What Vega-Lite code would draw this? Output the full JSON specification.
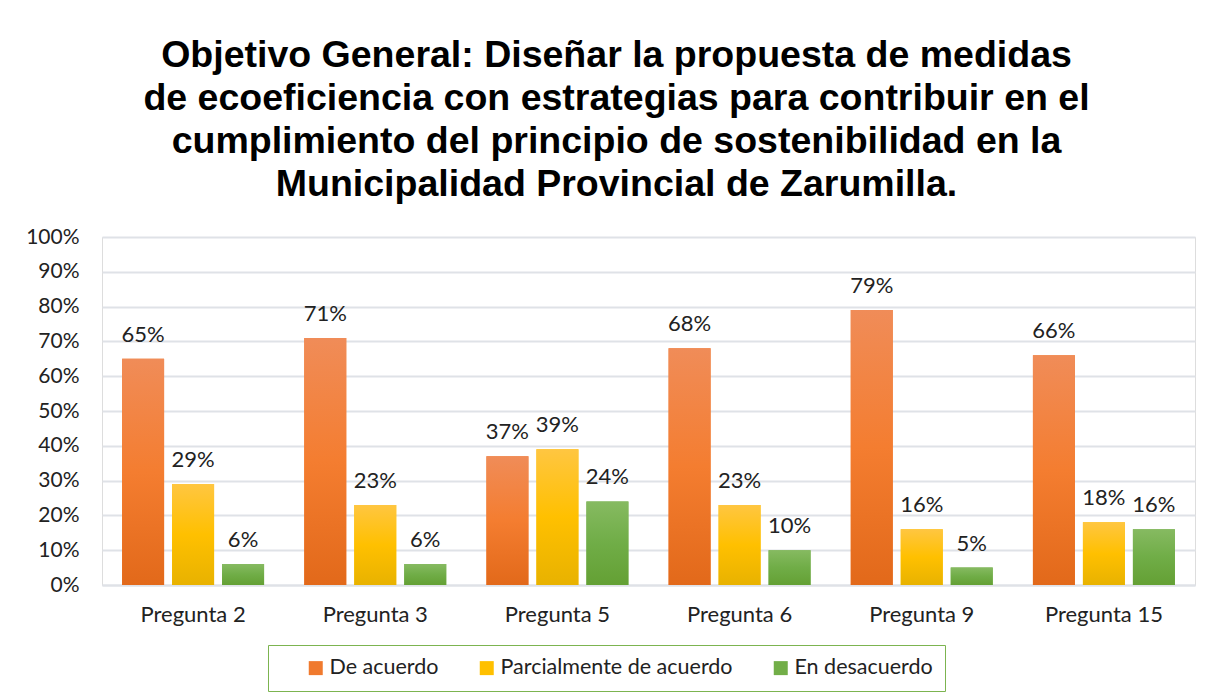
{
  "$schema": "https://vega.github.io/schema/vega-lite/v6.json",
  "width": 1093,
  "height": 348,
  "autosize": {"type": "none"},
  "padding": {"left": 102, "top": 237, "right": 30, "bottom": 115},
  "background": "white",
  "title": {
    "text": [
      "Objetivo General: Diseñar la propuesta de medidas",
      "de ecoeficiencia con estrategias para contribuir en el",
      "cumplimiento del principio de sostenibilidad en la",
      "Municipalidad Provincial de Zarumilla."
    ],
    "font": "Liberation Sans",
    "fontSize": 37.5,
    "fontWeight": "bold",
    "lineHeight": 43,
    "color": "#000000",
    "anchor": "middle",
    "frame": "group",
    "dx": -32,
    "offset": 23
  },
  "data": {
    "values": [
      {"pregunta": "Pregunta 2", "respuesta": "De acuerdo", "valor": 0.65},
      {"pregunta": "Pregunta 2", "respuesta": "Parcialmente de acuerdo", "valor": 0.29},
      {"pregunta": "Pregunta 2", "respuesta": "En desacuerdo", "valor": 0.06},
      {"pregunta": "Pregunta 3", "respuesta": "De acuerdo", "valor": 0.71},
      {"pregunta": "Pregunta 3", "respuesta": "Parcialmente de acuerdo", "valor": 0.23},
      {"pregunta": "Pregunta 3", "respuesta": "En desacuerdo", "valor": 0.06},
      {"pregunta": "Pregunta 5", "respuesta": "De acuerdo", "valor": 0.37},
      {"pregunta": "Pregunta 5", "respuesta": "Parcialmente de acuerdo", "valor": 0.39},
      {"pregunta": "Pregunta 5", "respuesta": "En desacuerdo", "valor": 0.24},
      {"pregunta": "Pregunta 6", "respuesta": "De acuerdo", "valor": 0.68},
      {"pregunta": "Pregunta 6", "respuesta": "Parcialmente de acuerdo", "valor": 0.23},
      {"pregunta": "Pregunta 6", "respuesta": "En desacuerdo", "valor": 0.10},
      {"pregunta": "Pregunta 9", "respuesta": "De acuerdo", "valor": 0.79},
      {"pregunta": "Pregunta 9", "respuesta": "Parcialmente de acuerdo", "valor": 0.16},
      {"pregunta": "Pregunta 9", "respuesta": "En desacuerdo", "valor": 0.05},
      {"pregunta": "Pregunta 15", "respuesta": "De acuerdo", "valor": 0.66},
      {"pregunta": "Pregunta 15", "respuesta": "Parcialmente de acuerdo", "valor": 0.18},
      {"pregunta": "Pregunta 15", "respuesta": "En desacuerdo", "valor": 0.16}
    ]
  },
  "encoding": {
    "x": {
      "field": "pregunta",
      "type": "nominal",
      "sort": ["Pregunta 2", "Pregunta 3", "Pregunta 5", "Pregunta 6", "Pregunta 9", "Pregunta 15"],
      "scale": {"domain": ["Pregunta 2", "Pregunta 3", "Pregunta 5", "Pregunta 6", "Pregunta 9", "Pregunta 15"], "paddingInner": 0.2206, "paddingOuter": 0.1103},
      "title": null,
      "axis": {
        "labelAngle": 0,
        "labelFont": "Lato",
        "labelFontSize": 22,
        "labelColor": "#222222",
        "labelPadding": 19,
        "ticks": false,
        "domain": true,
        "domainColor": "#DFE2E7",
        "domainWidth": 2,
        "grid": false
      }
    },
    "xOffset": {
      "field": "respuesta",
      "type": "nominal",
      "scale": {"domain": ["De acuerdo", "Parcialmente de acuerdo", "En desacuerdo"], "paddingInner": 0.16, "paddingOuter": 0}
    },
    "y": {
      "field": "valor",
      "type": "quantitative",
      "scale": {"domain": [0, 1], "nice": false},
      "title": null,
      "axis": {
        "values": [0, 0.1, 0.2, 0.3, 0.4, 0.5, 0.6, 0.7, 0.8, 0.9, 1],
        "format": ".0%",
        "labelFont": "Lato",
        "labelFontSize": 21,
        "labelColor": "#222222",
        "labelPadding": 23,
        "ticks": false,
        "domain": false,
        "grid": true,
        "gridColor": "#DFE2E7",
        "gridWidth": 2
      }
    }
  },
  "layer": [
    {
      "mark": {"type": "bar"},
      "encoding": {
        "color": {
          "field": "respuesta",
          "type": "nominal",
          "scale": {"domain": ["De acuerdo", "Parcialmente de acuerdo", "En desacuerdo"], "range": ["#F07A2E", "#FFC000", "#72AE48"]},
          "legend": {
            "orient": "none",
            "legendX": 166,
            "legendY": 408,
            "direction": "horizontal",
            "title": null,
            "symbolType": "square",
            "symbolSize": 196,
            "symbolStrokeWidth": 0,
            "labelFont": "Lato",
            "labelFontSize": 21.5,
            "labelColor": "#222222",
            "labelLimit": 500,
            "labelOffset": 3,
            "symbolOffset": 25,
            "columnPadding": 12,
            "padding": 12,
            "strokeColor": "#7CB450"
          }
        }
      }
    },
    {
      "transform": [{"filter": "datum.respuesta === 'De acuerdo'"}],
      "mark": {
        "type": "bar",
        "fill": {"gradient": "linear", "x1": 0, "y1": 0, "x2": 0, "y2": 1, "stops": [{"offset": 0, "color": "#F08C58"}, {"offset": 0.5, "color": "#F47D30"}, {"offset": 1, "color": "#E2691A"}]}
      }
    },
    {
      "transform": [{"filter": "datum.respuesta === 'Parcialmente de acuerdo'"}],
      "mark": {
        "type": "bar",
        "fill": {"gradient": "linear", "x1": 0, "y1": 0, "x2": 0, "y2": 1, "stops": [{"offset": 0, "color": "#FFC641"}, {"offset": 0.5, "color": "#FFC000"}, {"offset": 1, "color": "#E8B200"}]}
      }
    },
    {
      "transform": [{"filter": "datum.respuesta === 'En desacuerdo'"}],
      "mark": {
        "type": "bar",
        "fill": {"gradient": "linear", "x1": 0, "y1": 0, "x2": 0, "y2": 1, "stops": [{"offset": 0, "color": "#86BA61"}, {"offset": 0.5, "color": "#70AD47"}, {"offset": 1, "color": "#64A034"}]}
      }
    },
    {
      "mark": {"type": "text", "baseline": "alphabetic", "dy": -17, "font": "Lato", "fontSize": 22, "color": "#222222"},
      "encoding": {
        "text": {"field": "valor", "type": "quantitative", "format": ".0%"}
      }
    }
  ]
}
